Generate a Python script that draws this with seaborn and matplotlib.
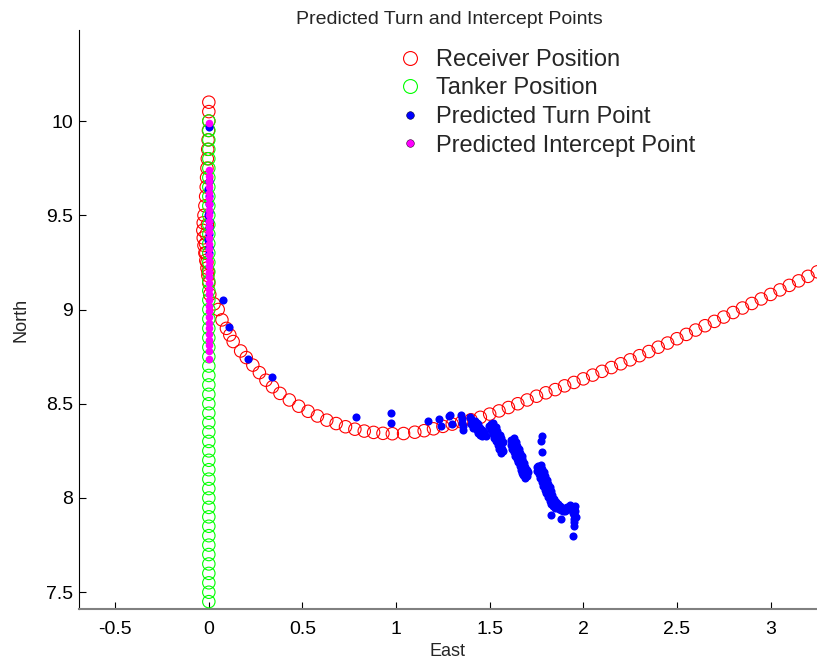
import matplotlib
matplotlib.use("Agg")
import matplotlib.pyplot as plt
import seaborn as sns
import pandas as pd
from matplotlib.lines import Line2D

# ---------------- data ----------------
receiver_x = [0.0, 0.0, 0.0, -0.002, -0.004, -0.006, -0.008, -0.010, -0.012, -0.014,
              -0.017, -0.021, -0.026, -0.030, -0.032, -0.030, -0.026, -0.021, -0.016, -0.010,
              -0.005, 0.0, -0.008, -0.014, -0.018, -0.016, -0.010, -0.004,
              0.005, 0.028, 0.050, 0.070, 0.094, 0.112, 0.130, 0.170, 0.200, 0.235,
              0.270, 0.305, 0.340, 0.380, 0.430, 0.480, 0.530, 0.580, 0.630, 0.680,
              0.730, 0.780, 0.830, 0.880, 0.930, 0.980, 1.040, 1.100, 1.150, 1.200,
              1.250, 1.300, 1.350, 1.400, 1.450, 1.500, 1.550, 1.600, 1.650, 1.700,
              1.750, 1.800, 1.850, 1.900, 1.950, 2.000, 2.050, 2.100, 2.150, 2.200,
              2.250, 2.300, 2.350, 2.400, 2.450, 2.500, 2.550, 2.600, 2.650, 2.700,
              2.750, 2.800, 2.850, 2.900, 2.950, 3.000, 3.050, 3.100, 3.150, 3.200, 3.250]
receiver_y = [10.10, 10.05, 10.00, 9.95, 9.90, 9.85, 9.80, 9.75, 9.70, 9.65,
              9.60, 9.55, 9.50, 9.46, 9.42, 9.38, 9.34, 9.30, 9.26, 9.22,
              9.18, 9.14, 9.45, 9.40, 9.35, 9.30, 9.25, 9.20,
              9.08, 9.03, 9.00, 8.945, 8.90, 8.865, 8.83, 8.78, 8.745, 8.705,
              8.665, 8.625, 8.59, 8.555, 8.52, 8.487, 8.46, 8.435, 8.413, 8.395,
              8.378, 8.365, 8.355, 8.348, 8.343, 8.341, 8.342, 8.349, 8.357, 8.367,
              8.38, 8.392, 8.403, 8.415, 8.428, 8.445, 8.462, 8.48, 8.50, 8.52,
              8.54, 8.558, 8.575, 8.595, 8.613, 8.632, 8.652, 8.672, 8.692, 8.712,
              8.733, 8.755, 8.777, 8.80, 8.822, 8.845, 8.868, 8.891, 8.914, 8.937,
              8.96, 8.984, 9.008, 9.032, 9.056, 9.08, 9.104, 9.128, 9.152, 9.176, 9.20]

tanker_y = [7.45, 7.50, 7.55, 7.60, 7.65, 7.70, 7.75, 7.80, 7.85, 7.90,
            7.95, 8.00, 8.05, 8.10, 8.15, 8.20, 8.25, 8.30, 8.35, 8.40,
            8.45, 8.50, 8.55, 8.60, 8.65, 8.70, 8.75, 8.80, 8.85, 8.90,
            8.95, 9.00, 9.05, 9.10, 9.15, 9.20, 9.25, 9.30, 9.35, 9.40,
            9.45, 9.50, 9.55, 9.60, 9.65, 9.70, 9.75, 9.80, 9.85, 9.90,
            9.95, 10.00]
tanker_x = [0.0] * len(tanker_y)

turn_x = [0.0, 0.0, -0.003, 0.0, 0.002, 0.0, -0.003, 0.0, 0.002, 0.0, -0.002, 0.0, 0.0,
          0.076, 0.108, 0.210, 0.340, 0.787, 0.973, 0.973, 1.168, 1.230, 1.240, 1.290, 1.297,
          1.285, 1.345, 1.350, 1.350, 1.360, 1.355,
          1.395, 1.400, 1.410, 1.420, 1.430, 1.440, 1.450, 1.460, 1.470, 1.480,
          1.420, 1.440, 1.450, 1.460, 1.400, 1.410, 1.430, 1.470,
          # band 1
          1.505, 1.520, 1.525, 1.540, 1.545, 1.555, 1.560, 1.570, 1.515, 1.535, 1.550, 1.565,
          1.520, 1.535, 1.540, 1.555, 1.560, 1.570,
          1.495, 1.505, 1.515, 1.525, 1.535, 1.545, 1.550, 1.560,
          # band 2
          1.615, 1.625, 1.630, 1.640, 1.645, 1.655, 1.660, 1.670, 1.675, 1.685, 1.690, 1.700,
          1.625, 1.640, 1.655, 1.670, 1.685, 1.695,
          1.630, 1.640, 1.645, 1.655, 1.660, 1.670, 1.675, 1.685, 1.690, 1.700, 1.705,
          1.615, 1.620, 1.630, 1.635, 1.645, 1.650, 1.660, 1.665, 1.675, 1.680, 1.690,
          # band 3
          1.760, 1.765, 1.775, 1.780, 1.790, 1.795, 1.805, 1.810, 1.820, 1.830,
          1.840, 1.850, 1.860, 1.870, 1.880, 1.890, 1.900, 1.910, 1.920, 1.930,
          1.940, 1.950, 1.955, 1.950, 1.950, 1.950, 1.950, 1.945,
          1.770, 1.785, 1.800, 1.815, 1.830, 1.845, 1.860, 1.935, 1.945,
          1.775, 1.780, 1.790, 1.795, 1.805, 1.810, 1.820, 1.825, 1.835, 1.845,
          1.855, 1.865, 1.875, 1.885, 1.900, 1.915, 1.930, 1.958, 1.960, 1.940,
          1.750, 1.755, 1.765, 1.770, 1.780, 1.785, 1.795, 1.800, 1.810, 1.820,
          1.830, 1.840, 1.850,
          1.780, 1.775, 1.778, 1.830, 1.880]
turn_y = [9.97, 9.68, 9.64, 9.60, 9.56, 9.52, 9.50, 9.47, 9.44, 9.40, 9.37, 9.33, 9.30,
          9.048, 8.906, 8.74, 8.64, 8.43, 8.45, 8.40, 8.41, 8.42, 8.38, 8.44, 8.39,
          8.435, 8.44, 8.42, 8.40, 8.38, 8.36,
          8.43, 8.42, 8.40, 8.38, 8.36, 8.345, 8.335, 8.33, 8.335, 8.33,
          8.41, 8.39, 8.37, 8.36, 8.39, 8.37, 8.40, 8.35,
          8.39, 8.37, 8.35, 8.33, 8.31, 8.29, 8.27, 8.25, 8.385, 8.34, 8.30, 8.26,
          8.396, 8.376, 8.356, 8.336, 8.316, 8.296,
          8.38, 8.36, 8.34, 8.32, 8.30, 8.28, 8.26, 8.24,
          8.31, 8.29, 8.27, 8.255, 8.235, 8.215, 8.20, 8.18, 8.16, 8.145, 8.13, 8.115,
          8.30, 8.275, 8.24, 8.20, 8.165, 8.14,
          8.316, 8.296, 8.276, 8.261, 8.241, 8.221, 8.206, 8.186, 8.166, 8.151, 8.136,
          8.28, 8.26, 8.245, 8.225, 8.205, 8.19, 8.17, 8.15, 8.135, 8.12, 8.105,
          8.17, 8.15, 8.13, 8.11, 8.09, 8.07, 8.05, 8.03, 8.01, 7.99,
          7.975, 7.96, 7.95, 7.94, 7.935, 7.93, 7.93, 7.935, 7.94, 7.95,
          7.945, 7.94, 7.93, 7.91, 7.89, 7.87, 7.85, 7.80,
          8.16, 8.12, 8.08, 8.04, 8.01, 7.98, 7.965, 7.96, 7.92,
          8.176, 8.156, 8.136, 8.116, 8.096, 8.076, 8.056, 8.036, 8.016, 7.996,
          7.981, 7.966, 7.955, 7.945, 7.945, 7.95, 7.962, 7.955, 7.90, 7.935,
          8.165, 8.145, 8.125, 8.105, 8.085, 8.065, 8.045, 8.025, 8.005, 7.985,
          7.97, 7.955, 7.945,
          8.33, 8.30, 8.245, 7.91, 7.89]

intercept_y = [9.99, 9.74, 9.71, 9.68, 9.65, 9.62, 9.59, 9.56, 9.53, 9.50,
               9.47, 9.44, 9.41, 9.38, 9.35, 9.32, 9.29, 9.26, 9.23, 9.20,
               9.17, 9.14, 9.11, 9.08, 9.05, 9.02, 8.99, 8.96, 8.93, 8.90,
               8.87, 8.84, 8.81, 8.78, 8.74]
intercept_x = [0.0] * len(intercept_y)

labels = ["Receiver Position", "Tanker Position", "Predicted Turn Point", "Predicted Intercept Point"]
x_ticks = [-0.5, 0, 0.5, 1, 1.5, 2, 2.5, 3]
x_tick_labels = ["-0.5", "0", "0.5", "1", "1.5", "2", "2.5", "3"]
y_ticks = [7.5, 8, 8.5, 9, 9.5, 10]
y_tick_labels = ["7.5", "8", "8.5", "9", "9.5", "10"]

# ---------------- plot ----------------
sns.set_style("white")
plt.rcParams['font.family'] = ['Liberation Sans', 'DejaVu Sans']

W, H = 817, 663
fig = plt.figure(figsize=(W / 100, H / 100), dpi=100)
ax_left, ax_bottom, ax_top = 78.5, 609, 30
ax = fig.add_axes([ax_left / W, 1 - ax_bottom / H, (W - ax_left) / W, (ax_bottom - ax_top) / H])

rec = pd.DataFrame({"East": receiver_x, "North": receiver_y})
tan = pd.DataFrame({"East": tanker_x, "North": tanker_y})
trn = pd.DataFrame({"East": turn_x, "North": turn_y})
icp = pd.DataFrame({"East": intercept_x, "North": intercept_y})

sns.scatterplot(data=rec, x="East", y="North", ax=ax, marker="o", s=80,
                facecolor="none", edgecolor="#ff0000", linewidth=0.8, zorder=2)
sns.scatterplot(data=tan, x="East", y="North", ax=ax, marker="o", s=80,
                facecolor="none", edgecolor="#00ff00", linewidth=0.8, zorder=3)
sns.scatterplot(data=trn, x="East", y="North", ax=ax, marker="o", s=34,
                color="#0000ff", edgecolor="#0000ff", linewidth=0, zorder=4)
sns.scatterplot(data=icp, x="East", y="North", ax=ax, marker="o", s=30,
                color="#ff00ff", edgecolor="#ff00ff", linewidth=0, zorder=5)

ax.set_xlim(-0.696, 3.248)
ax.set_ylim(7.411, 10.483)
ax.set_xticks(x_ticks)
ax.set_xticklabels(x_tick_labels)
ax.set_yticks(y_ticks)
ax.set_yticklabels(y_tick_labels)
ax.tick_params(axis="both", direction="in", length=5, width=0.8, labelsize=14,
               colors="black", bottom=True, left=True)
ax.tick_params(axis="x", pad=9)
ax.tick_params(axis="y", pad=4)
for s in ["top", "right"]:
    ax.spines[s].set_visible(False)
ax.spines["left"].set_color("black")
ax.spines["left"].set_linewidth(0.8)
ax.spines["bottom"].set_color("#808080")
ax.spines["bottom"].set_linewidth(1.5)

ax.set_xlabel("East", fontsize=13, labelpad=3)
ax.set_ylabel("North", fontsize=13, labelpad=12)
fig.text(449 / W, 1 - 19 / H, "Predicted Turn and Intercept Points", ha="center", va="center",
         fontsize=14)

handles = [
    Line2D([], [], linestyle="none", marker="o", markersize=10, markerfacecolor="none",
           markeredgecolor="#ff0000", markeredgewidth=0.8),
    Line2D([], [], linestyle="none", marker="o", markersize=10, markerfacecolor="none",
           markeredgecolor="#00ff00", markeredgewidth=0.8),
    Line2D([], [], linestyle="none", marker="o", markersize=5.5, markerfacecolor="#0000ff",
           markeredgecolor="#000033", markeredgewidth=0.4),
    Line2D([], [], linestyle="none", marker="o", markersize=5.5, markerfacecolor="#ff00ff",
           markeredgecolor="#330033", markeredgewidth=0.4),
]
ax.legend(handles, labels, loc="upper left", bbox_to_anchor=(384 / W, 1 - 37 / H),
          bbox_transform=fig.transFigure, frameon=False, fontsize=17,
          handletextpad=0.5, labelspacing=0.28, borderpad=0, handlelength=1.2)

fig.savefig("out.png", dpi=100)
